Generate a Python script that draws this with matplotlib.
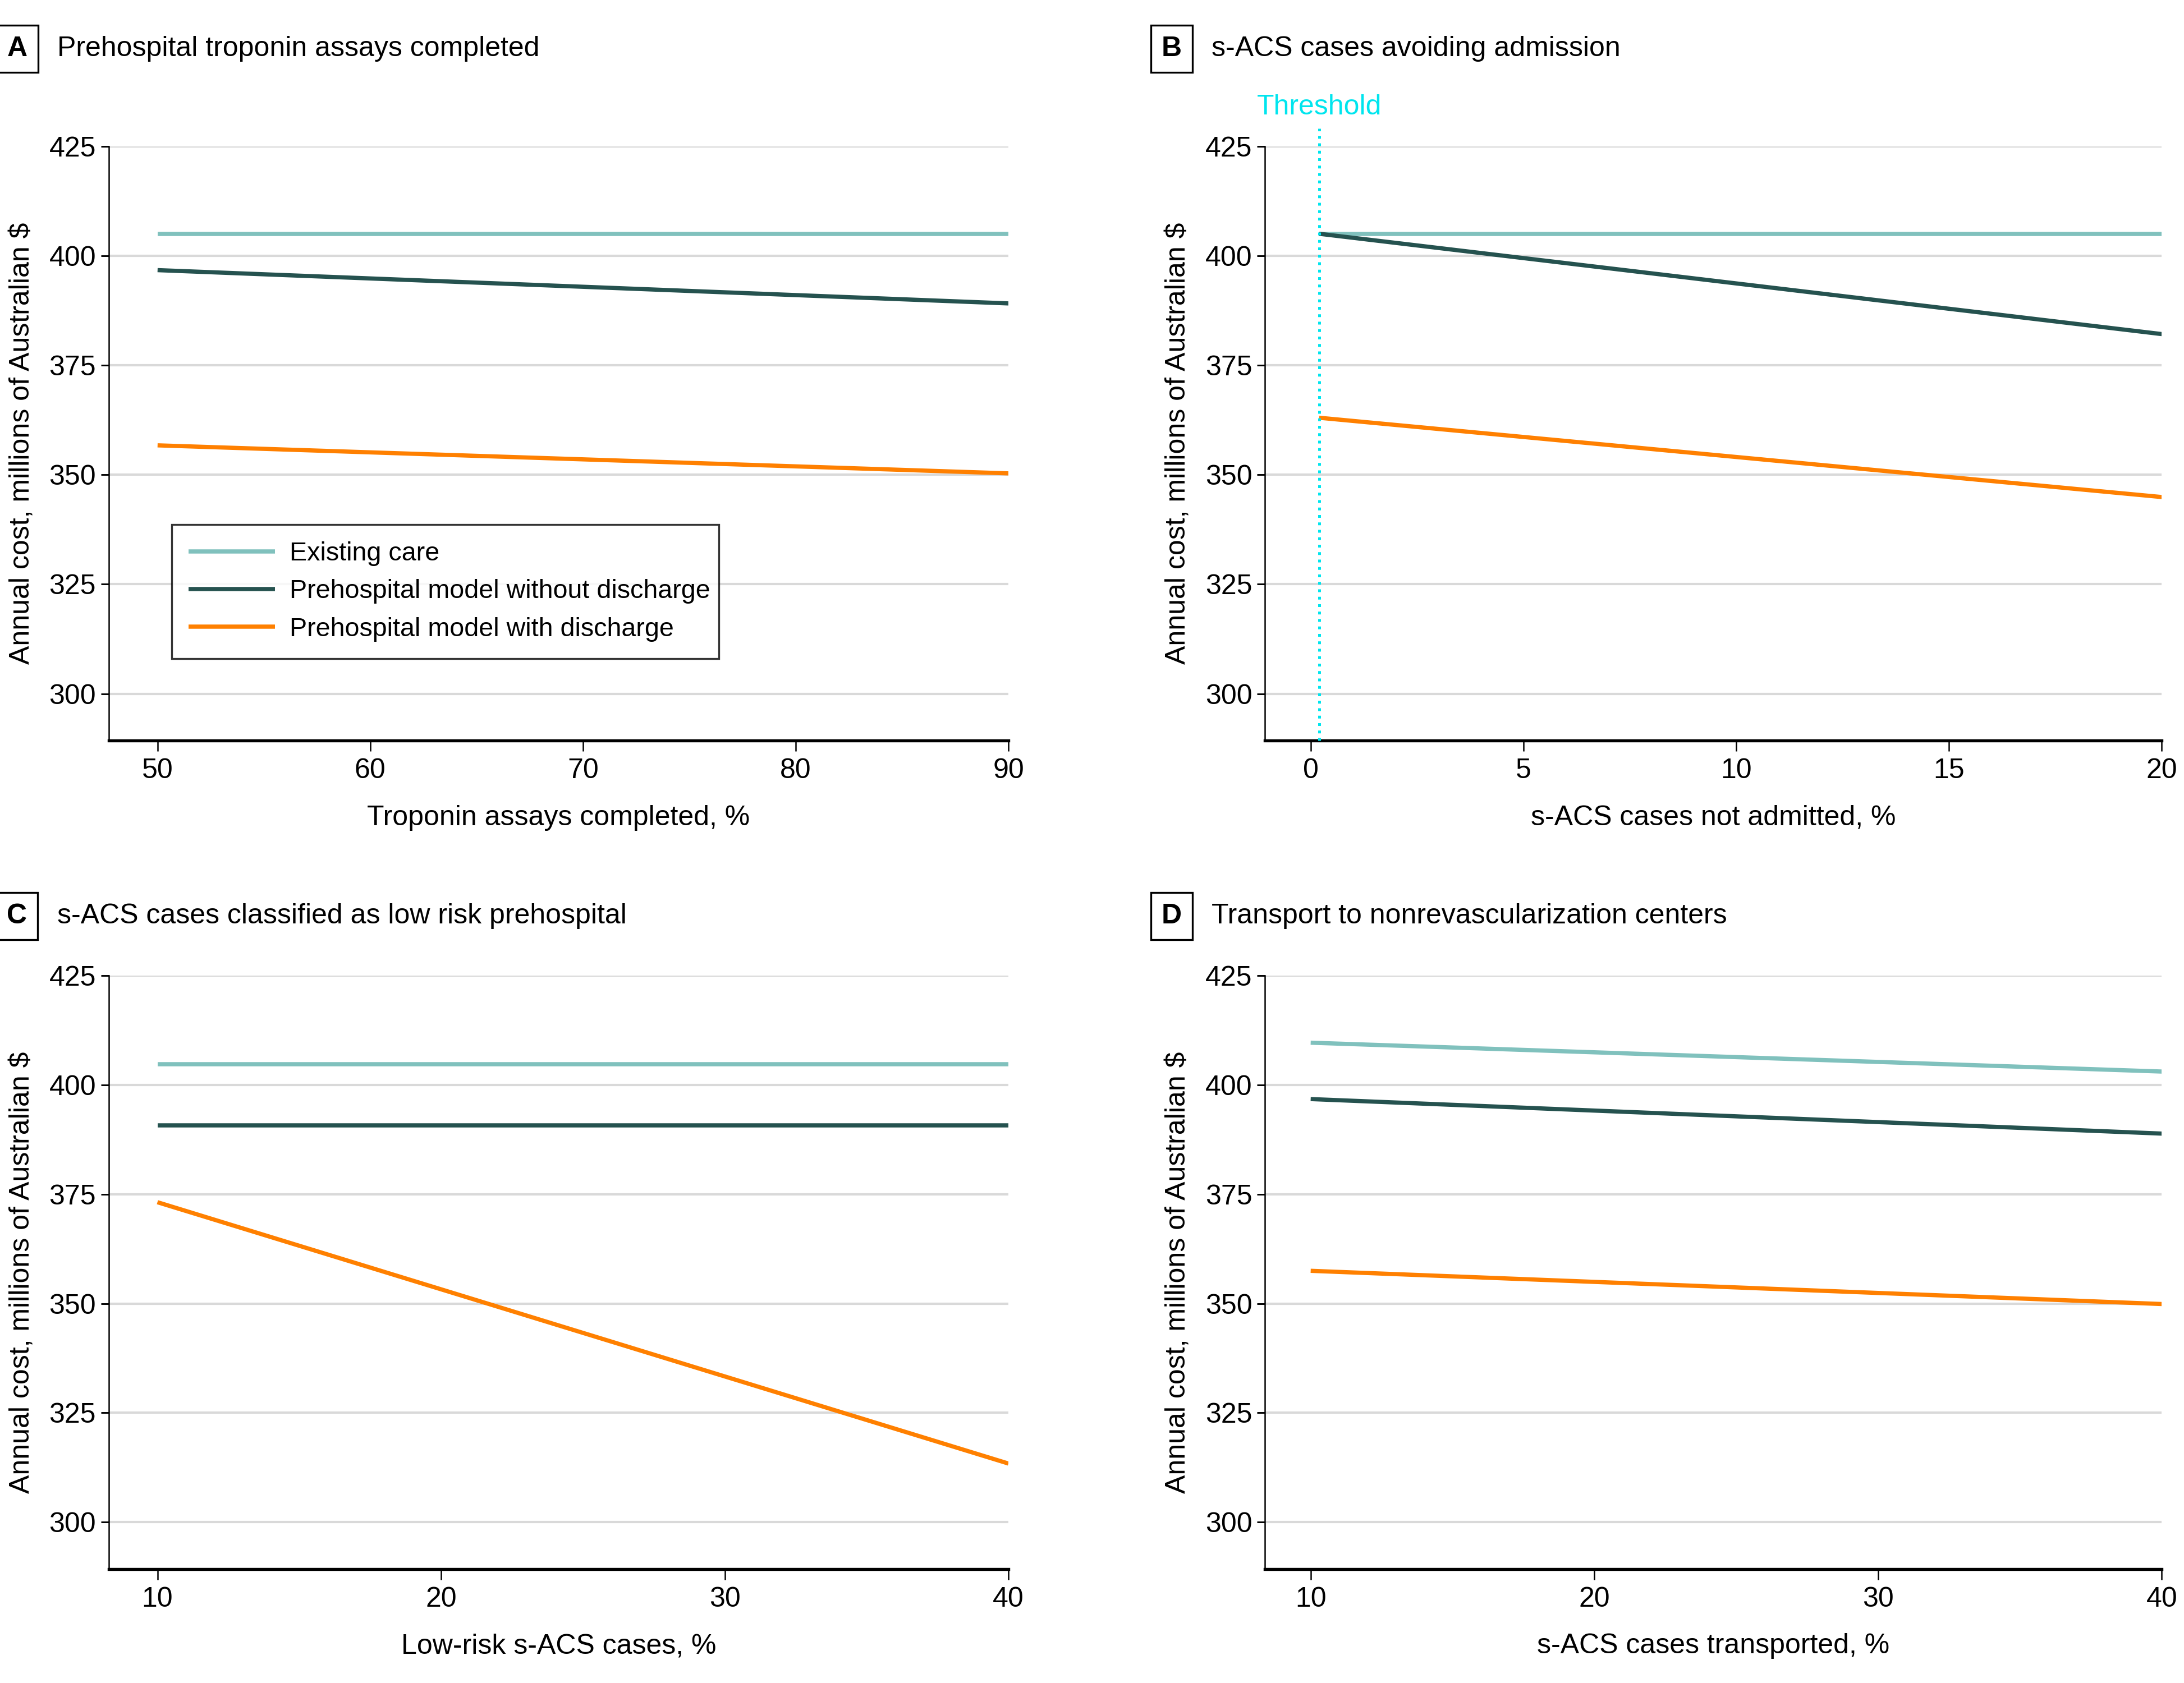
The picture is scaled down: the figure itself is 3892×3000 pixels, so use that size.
import matplotlib
matplotlib.use('Agg')
import matplotlib.pyplot as plt
import numpy as np

plt.rcParams['font.family'] = ['Liberation Sans', 'DejaVu Sans']

# 数据
series_names = ['Existing care', 'Prehospital model without discharge', 'Prehospital model with discharge']
series_colors = ['#80c1bd', '#25524f', '#ff8000']

# A 院前肌钙蛋白检测完成比例
a_x = [50, 90]
a_existing = [405.0, 405.0]
a_without = [396.7, 389.1]
a_with = [356.7, 350.3]

# B 避免入院的 s-ACS 病例
b_x = [0.2, 20]
b_existing = [405.0, 405.0]
b_without = [405.0, 382.1]
b_with = [363.0, 344.9]
b_threshold = 0.2

# C 低风险 s-ACS 病例
c_x = [10, 40]
c_existing = [404.8, 404.8]
c_without = [390.8, 390.8]
c_with = [373.2, 313.4]

# D 转运到非血运重建中心
d_x = [10, 40]
d_existing = [409.7, 403.1]
d_without = [396.8, 388.9]
d_with = [357.5, 349.9]

y_ticks = [300, 325, 350, 375, 400, 425]

panels = [
    ('A', 'Prehospital troponin assays completed', 'Troponin assays completed, %',
     a_x, [a_existing, a_without, a_with], [50, 60, 70, 80, 90], (47.7, 90)),
    ('B', 's-ACS cases avoiding admission', 's-ACS cases not admitted, %',
     b_x, [b_existing, b_without, b_with], [0, 5, 10, 15, 20], (-1.08, 20)),
    ('C', 's-ACS cases classified as low risk prehospital', 'Low-risk s-ACS cases, %',
     c_x, [c_existing, c_without, c_with], [10, 20, 30, 40], (8.28, 40)),
    ('D', 'Transport to nonrevascularization centers', 's-ACS cases transported, %',
     d_x, [d_existing, d_without, d_with], [10, 20, 30, 40], (8.38, 40)),
]

W, H = 1568.0, 1209.0
boxes = {
    'A': (78, 724, 105, 532),
    'B': (908, 1552, 105, 532),
    'C': (78, 724, 701, 1127),
    'D': (908, 1552, 701, 1127),
}

fig = plt.figure(figsize=(3892 / 300, 3000 / 300), dpi=300)
fs = 12

for letter, title, xlabel, xs, ys, xticks, xlim in panels:
    l, r, t, b = boxes[letter]
    ax = fig.add_axes([l / W, 1 - b / H, (r - l) / W, (b - t) / H])
    for yv, c, name in zip(ys, series_colors, series_names):
        ax.plot(xs, yv, color=c, lw=1.8, label=name, solid_capstyle='butt', zorder=3)
    ax.set_xlim(*xlim)
    ax.set_ylim(289.3, 425)
    ax.set_xticks(xticks)
    ax.set_yticks(y_ticks)
    ax.grid(axis='y', color='#d9d9d9', lw=1.0, zorder=0)
    ax.set_axisbelow(True)
    for s in ['top', 'right']:
        ax.spines[s].set_visible(False)
    ax.spines['left'].set_linewidth(0.6)
    ax.spines['bottom'].set_linewidth(1.3)
    ax.tick_params(axis='y', length=3.4, width=0.7, pad=2, labelsize=fs)
    ax.tick_params(axis='x', length=4.5, width=0.6, pad=3, labelsize=fs)
    ax.set_xlabel(xlabel, fontsize=fs, labelpad=9)
    ax.set_ylabel('Annual cost, millions of Australian $', fontsize=fs, labelpad=6)

    # 面板标题
    bx = 5 / W if l < 500 else 834 / W
    ty = 1 - ((35 if t < 500 else 658) / H)
    fig.text(bx, ty, letter, fontsize=fs, fontweight='bold', ha='left', va='center',
             bbox=dict(boxstyle='square,pad=0.38', fc='white', ec='black', lw=0.8))
    fig.text((3 if l < 500 else 832) / W + 38 / W, ty, title, fontsize=fs, ha='left', va='center')

    if letter == 'A':
        leg = ax.legend(loc='lower left', bbox_to_anchor=(0.07, 0.138, 0.608, 0.22), mode='expand',
                        fontsize=11.2, frameon=True, fancybox=False, borderpad=0.65,
                        handlelength=3.3, handletextpad=0.55, labelspacing=0.5, borderaxespad=0)
        leg.get_frame().set_edgecolor('black')
        leg.get_frame().set_linewidth(0.8)
    if letter == 'B':
        ax.axvline(b_threshold, ymin=0, ymax=1.03, color='#00e5ee', ls=':', lw=1.2, clip_on=False, zorder=4)
        ax.text(b_threshold, 1.066, 'Threshold', color='#00e5ee', fontsize=fs,
                transform=ax.get_xaxis_transform(), ha='center', va='center')

fig.savefig('out.png', dpi=300, facecolor='white')
